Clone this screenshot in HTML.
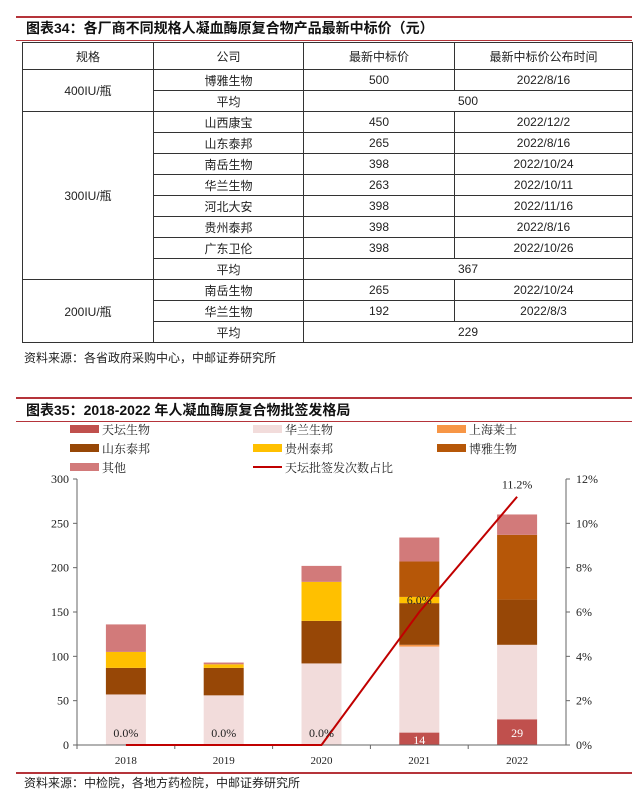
<!DOCTYPE html>
<html><head><meta charset="utf-8">
<style>
body{margin:0;width:640px;height:792px;background:#fff;font-family:"Liberation Sans","Noto Sans CJK SC",sans-serif;position:relative;overflow:hidden}
.rl{position:absolute;left:16px;width:616px;height:2px;background:#b5343a}
.title{position:absolute;left:26px;font-weight:bold;font-size:14px;color:#111}
table{position:absolute;left:22px;top:42px;border-collapse:collapse;font-size:12px;color:#222}
td{border:1px solid #333;text-align:center;height:20px;padding:0}
.src{position:absolute;left:24px;font-size:12px;color:#222}
</style></head><body>
<div class="rl" style="top:16px"></div>
<div class="title" style="top:18px">图表34：各厂商不同规格人凝血酶原复合物产品最新中标价（元）</div>
<div class="rl" style="top:40px;height:1px"></div>
<table>
<colgroup><col style="width:131px"><col style="width:150px"><col style="width:151px"><col style="width:178px"></colgroup>
<tr style="height:27px"><td>规格</td><td>公司</td><td>最新中标价</td><td>最新中标价公布时间</td></tr>
<tr><td rowspan="2">400IU/瓶</td><td>博雅生物</td><td>500</td><td>2022/8/16</td></tr>
<tr><td>平均</td><td colspan="2">500</td></tr>
<tr><td rowspan="8">300IU/瓶</td><td>山西康宝</td><td>450</td><td>2022/12/2</td></tr>
<tr><td>山东泰邦</td><td>265</td><td>2022/8/16</td></tr>
<tr><td>南岳生物</td><td>398</td><td>2022/10/24</td></tr>
<tr><td>华兰生物</td><td>263</td><td>2022/10/11</td></tr>
<tr><td>河北大安</td><td>398</td><td>2022/11/16</td></tr>
<tr><td>贵州泰邦</td><td>398</td><td>2022/8/16</td></tr>
<tr><td>广东卫伦</td><td>398</td><td>2022/10/26</td></tr>
<tr><td>平均</td><td colspan="2">367</td></tr>
<tr><td rowspan="3">200IU/瓶</td><td>南岳生物</td><td>265</td><td>2022/10/24</td></tr>
<tr><td>华兰生物</td><td>192</td><td>2022/8/3</td></tr>
<tr><td>平均</td><td colspan="2">229</td></tr>
</table>
<div class="src" style="top:349px">资料来源：各省政府采购中心，中邮证券研究所</div>

<div class="rl" style="top:397px"></div>
<div class="title" style="top:400px">图表35：2018-2022 年人凝血酶原复合物批签发格局</div>
<div class="rl" style="top:421px;height:1px"></div>
<div class="rl" style="top:772px"></div>
<div class="src" style="top:774px">资料来源：中检院，各地方药检院，中邮证券研究所</div>
<svg id="c" width="640" height="792" style="position:absolute;left:0;top:0"></svg>
<script>
const years=['2018','2019','2020','2021','2022'];
const seriesNames=['天坛生物','华兰生物','上海莱士','山东泰邦','贵州泰邦','博雅生物','其他'];
const tiantan=[0,0,0,14,29];
const hualan=[57,56,92,97,84];
const shanghai=[0,0,0,2,0];
const shandong=[30,31,48,47,51];
const guizhou=[18,4,44,7,0];
const boya=[0,0,0,40,73];
const other=[31,2,18,27,23];
const share=[0,0,0,6.0,11.2];
const leftTicks=[0,50,100,150,200,250,300];
const rightTicks=[0,2,4,6,8,10,12];
const colors=['#c0504d','#f2dcdb','#f79646','#974706','#ffc000','#b65708','#d27a7a'];
const all=[tiantan,hualan,shanghai,shandong,guizhou,boya,other];
const svg=document.getElementById('c');const NS='http://www.w3.org/2000/svg';
function mk(t,a,txt){const e=document.createElementNS(NS,t);for(const k in a)e.setAttribute(k,a[k]);if(txt!=null)e.textContent=txt;svg.appendChild(e);return e;}
const x0=77,x1=566,yb=745,yt=479;
const y=v=>yb-(v/300)*(yb-yt);
const yr=v=>yb-(v/12)*(yb-yt);
const step=(x1-x0)/years.length;
const xc=i=>x0+step*(i+0.5);
const ff='"Liberation Serif","Noto Serif CJK SC",serif';
let e;
e=mk('line',{x1:x0,y1:yt,x2:x0,y2:yb,stroke:'#666'});


e=mk('line',{x1:x1,y1:yt,x2:x1,y2:yb,stroke:'#666'});


leftTicks.forEach(t=>{e=mk('text',{x:x0-8,y:y(t)+4,'text-anchor':'end','font-size':12,'font-family':ff,fill:'#222'},t);


mk('line',{x1:x0-4,y1:y(t),x2:x0,y2:y(t),stroke:'#666'});});
rightTicks.forEach(t=>{e=mk('text',{x:x1+10,y:yr(t)+4,'font-size':12,'font-family':ff,fill:'#222'},t+'%');


mk('line',{x1:x1,y1:yr(t),x2:x1+4,y2:yr(t),stroke:'#666'});});
years.forEach((yy,i)=>{
 let acc=0;
 all.forEach((s,k)=>{const v=s[i];if(v>0){e=mk('rect',{x:xc(i)-20,y:y(acc+v),width:40,height:y(acc)-y(acc+v),fill:colors[k]});
 
 }acc+=v;});
 if(tiantan[i]>0){e=mk('text',{x:xc(i),y:y(tiantan[i]/2)+5,'text-anchor':'middle','font-size':12,'font-family':ff,fill:'#fff'},tiantan[i]);
 
 }
 e=mk('text',{x:xc(i),y:yb+19,'text-anchor':'middle','font-size':11,'font-family':ff,fill:'#222'},yy);
 
 
 mk('line',{x1:x0+step*i,y1:yb,x2:x0+step*i,y2:yb+4,stroke:'#666'});
});
e=mk('line',{x1:x0,y1:yb,x2:x1,y2:yb,stroke:'#666'});


e=mk('polyline',{points:share.map((v,i)=>xc(i)+','+yr(v)).join(' '),fill:'none',stroke:'#c00000','stroke-width':2});


share.forEach((v,i)=>{e=mk('text',{x:xc(i),y:yr(v)-8,'text-anchor':'middle','font-size':12,'font-family':ff,fill:'#222'},v.toFixed(1)+'%');

});
const lx=[70,253,437];
seriesNames.concat(['天坛批签发次数占比']).forEach((n,k)=>{const cx=lx[k%3],cy=429+19*Math.floor(k/3);
 if(k<7){e=mk('rect',{x:cx,y:cy-4,width:29,height:8,fill:colors[k]});}
 else{e=mk('line',{x1:cx,y1:cy,x2:cx+29,y2:cy,stroke:'#c00000','stroke-width':2});}
 
 
 e=mk('text',{x:cx+32,y:cy+5,'font-size':12,'font-family':ff,fill:'#222'},n);
 
 
});
</script>
</body></html>
